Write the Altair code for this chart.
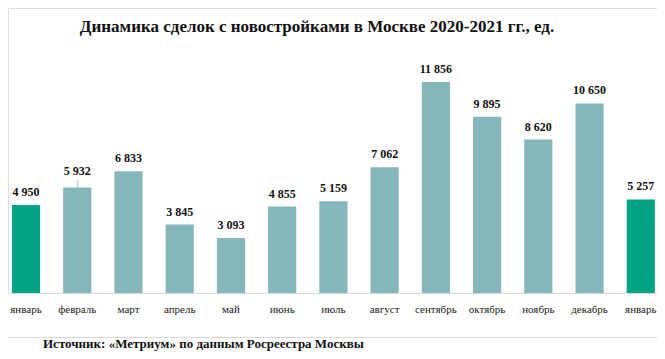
import altair as alt
import pandas as pd

months = ["январь", "февраль", "март", "апрель", "май", "июнь", "июль",
          "август", "сентябрь", "октябрь", "ноябрь", "декабрь", "январь"]
values = [4950, 5932, 6833, 3845, 3093, 4855, 5159, 7062, 11856, 9895, 8620, 10650, 5257]
highlight = [1, 0, 0, 0, 0, 0, 0, 0, 0, 0, 0, 0, 1]

SERIF = "'Times New Roman', 'Liberation Serif', 'DejaVu Serif', serif"

def fmt(v):
    return f"{v:,}".replace(",", " ")

df = pd.DataFrame({
    "idx": list(range(len(months))),
    "month": months,
    "value": values,
    "label": [fmt(v) for v in values],
    "hl": ["Январь" if h else "Прочие" for h in highlight],
})

labels_js = "[" + ",".join(f"'{m}'" for m in months) + "]"

x = alt.X("idx:O",
          scale=alt.Scale(range=[-7.6, 658.4], paddingInner=0.45, paddingOuter=0.225),
          axis=alt.Axis(title=None, labelAngle=0, ticks=False, labelPadding=10,
                        labelFont=SERIF, labelFontSize=11, labelColor="#222222",
                        domainColor="#d9d9d9", domainWidth=1,
                        labelExpr=f"{labels_js}[datum.value]"))
y = alt.Y("value:Q", scale=alt.Scale(domain=[0, 16011], nice=False), axis=None)

base = alt.Chart(df)

bars = base.mark_bar().encode(
    x=x, y=y,
    color=alt.Color("hl:N", scale=alt.Scale(domain=["Январь", "Прочие"],
                                            range=["#00A383", "#84B6BA"]), legend=None),
)

normal = base.transform_filter("datum.idx != 1").mark_text(
    font=SERIF, fontSize=12, fontWeight="bold", color="#111111",
    baseline="bottom", dy=-6
).encode(x=x, y=y, text="label:N")

feb = base.transform_filter("datum.idx == 1")
feb_label = feb.mark_text(
    font=SERIF, fontSize=12, fontWeight="bold", color="#111111",
    baseline="bottom", dy=-9
).encode(x=x, y=y, text="label:N")
feb_tick = feb.mark_tick(orient="vertical", size=7, thickness=1, color="#999999", yOffset=-3.5).encode(x=x, y=y)

title = alt.Chart(pd.DataFrame({"t": ["Динамика сделок с новостройками в Москве 2020-2021 гг., ед."]})).mark_text(
    font=SERIF, fontSize=17, fontWeight="bold", color="#111111", align="center", baseline="middle"
).encode(x=alt.value(309), y=alt.value(19), text="t:N")

sep = alt.Chart(pd.DataFrame({"a": [0]})).mark_rule(color="#d9d9d9", strokeWidth=1).encode(
    x=alt.value(-8), x2=alt.value(657), y=alt.value(329.5))

footer = alt.Chart(pd.DataFrame({"t": ["Источник: «Метриум» по данным Росреестра Москвы"]})).mark_text(
    font=SERIF, fontSize=13, fontWeight="bold", color="#111111", align="left", baseline="middle"
).encode(x=alt.value(35), y=alt.value(336), text="t:N")

chart = alt.layer(bars, normal, feb_tick, feb_label, title, sep, footer).properties(
    width=649, height=285,
    autosize=alt.AutoSizeParams(type="none"),
    padding={"left": 0, "top": 0, "right": 0, "bottom": 58},
).configure_view(stroke=None).configure(background="white")

chart.save("out.html", embed_options={"renderer": "svg", "actions": False})
